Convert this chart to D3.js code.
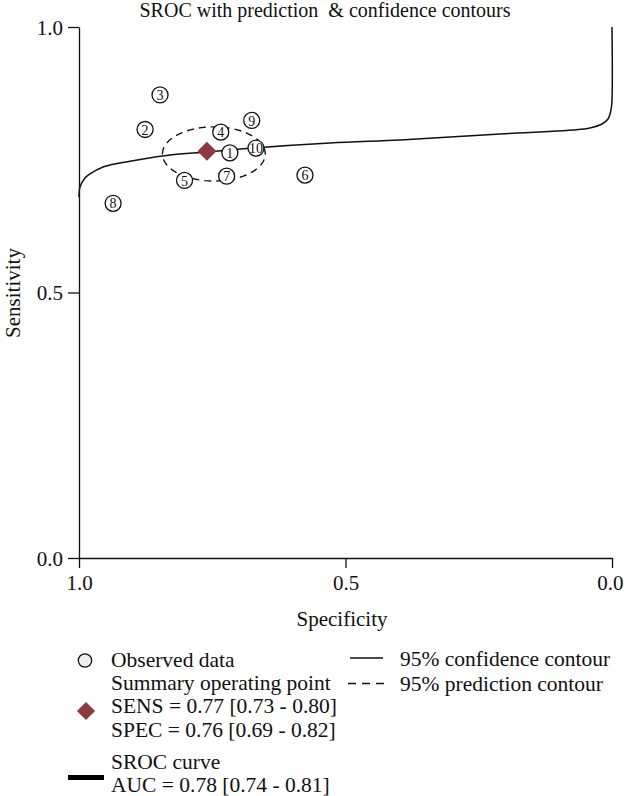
<!DOCTYPE html>
<html>
<head>
<meta charset="utf-8">
<script src="https://cdn.jsdelivr.net/npm/d3@7"></script>
<style>
  html, body { margin: 0; padding: 0; background: #fff; }
  svg { display: block; font-family: "Liberation Serif", "Times New Roman", serif; }
</style>
</head>
<body>
<svg id="chart" width="624" height="796"></svg>
<script>
// ---- data ----
const studyIds = [1, 2, 3, 4, 5, 6, 7, 8, 9, 10];
const studySpec = [0.717, 0.876, 0.848, 0.734, 0.802, 0.576, 0.723, 0.936, 0.676, 0.668];
const studySens = [0.763, 0.807, 0.872, 0.802, 0.711, 0.721, 0.719, 0.668, 0.824, 0.772];

const summarySpec = 0.76;
const summarySens = 0.766;

// SROC curve points: [specificity, sensitivity]
const srocSpec = [1.0, 0.9981, 0.9887, 0.9794, 0.955, 0.9231, 0.8912, 0.8293, 0.7598, 0.6735, 0.5291, 0.3977, 0.3039, 0.2101, 0.1351, 0.0732, 0.0413, 0.0188, 0.0075, 0.0019, 0.0, 0.0];
const srocSens = [0.6798, 0.6987, 0.7156, 0.7232, 0.7363, 0.7439, 0.7495, 0.7589, 0.7646, 0.7721, 0.7815, 0.7872, 0.7928, 0.7985, 0.8023, 0.806, 0.8098, 0.8173, 0.8267, 0.8437, 0.8625, 1.0];

// 95% prediction contour: centre and half-widths (spec, sens units)
const predCentre = [0.747, 0.761];
const predHalf = [0.0965, 0.051];

const xTicks = [1.0, 0.5, 0.0];
const yTicks = [0.0, 0.5, 1.0];

const titleText = "SROC with prediction\u00a0\u00a0& confidence contours";
const xLabel = "Specificity";
const yLabel = "Sensitivity";

const legendLeft = [
  "Observed data",
  "Summary operating point",
  "SENS = 0.77 [0.73 - 0.80]",
  "SPEC = 0.76 [0.69 - 0.82]",
  "SROC curve",
  "AUC = 0.78 [0.74 - 0.81]"
];
const legendRight = ["95% confidence contour", "95% prediction contour"];

// ---- drawing ----
const svg = d3.select("#chart");
const x = d3.scaleLinear().domain([1, 0]).range([79, 612]);
const y = d3.scaleLinear().domain([0, 1]).range([558, 27]);
const maroon = "#8b3a3f";
const fsTitle = 20;
const fs = 21.5;

// title
svg.append("text").attr("x", 325).attr("y", 17).attr("text-anchor", "middle")
  .attr("font-size", fsTitle).attr("fill", "#111").text(titleText);

// axes
const xAxis = d3.axisBottom(x).tickValues(xTicks).tickFormat(d3.format(".1f")).tickSize(10).tickSizeOuter(0).tickPadding(7);
const yAxis = d3.axisLeft(y).tickValues(yTicks).tickFormat(d3.format(".1f")).tickSize(11).tickSizeOuter(0).tickPadding(5);

const gx = svg.append("g").attr("transform", "translate(0,558)").call(xAxis);
const gy = svg.append("g").attr("transform", "translate(79,0)").call(yAxis);
[gx, gy].forEach(g => {
  g.selectAll("path, line").attr("stroke", "#111").attr("stroke-width", 1.3);
  g.selectAll("text").attr("font-size", 21).attr("font-family", "Liberation Serif, serif").attr("fill", "#111");
});
gy.selectAll(".tick text").attr("dy", "0.34em");
// keep the right-most x label inside the picture, flush to the edge as in the reference
gx.selectAll(".tick text").filter(d => d === 0).attr("text-anchor", "end").attr("dx", 11);

svg.append("text").attr("x", 342).attr("y", 626).attr("text-anchor", "middle")
  .attr("font-size", 21).attr("fill", "#111").text(xLabel);
svg.append("text").attr("transform", "translate(20,293) rotate(-90)").attr("text-anchor", "middle")
  .attr("font-size", 21).attr("fill", "#111").text(yLabel);

// SROC curve
const srocData = srocSpec.map((s, i) => [s, srocSens[i]]);
svg.append("path").datum(srocData)
  .attr("d", d3.line().x(d => x(d[0])).y(d => y(d[1])).curve(d3.curveCatmullRom.alpha(0.5)))
  .attr("fill", "none").attr("stroke", "#111").attr("stroke-width", 1.5);

// prediction contour
const angles = d3.range(0, 361, 4).map(a => a * Math.PI / 180);
const ell = angles.map(a => [predCentre[0] + predHalf[0] * Math.cos(a), predCentre[1] + predHalf[1] * Math.sin(a)]);
svg.append("path").datum(ell)
  .attr("d", d3.line().x(d => x(d[0])).y(d => y(d[1])))
  .attr("fill", "none").attr("stroke", "#111").attr("stroke-width", 1.4).attr("stroke-dasharray", "7,5");

// study points
const studies = studyIds.map((id, i) => ({ id, spec: studySpec[i], sens: studySens[i] }));
const gp = svg.append("g").selectAll("g").data(studies).join("g")
  .attr("transform", d => `translate(${x(d.spec)},${y(d.sens)})`);
gp.append("circle").attr("r", 8).attr("fill", "#fff").attr("stroke", "#111").attr("stroke-width", 1.3);
gp.append("text").attr("text-anchor", "middle").attr("dy", "0.36em").attr("font-size", 14)
  .attr("fill", "#111").text(d => d.id);

// summary point
svg.append("path").attr("d", d3.symbol().type(d3.symbolSquare).size(180)())
  .attr("transform", `translate(${x(summarySpec)},${y(summarySens)}) rotate(45)`)
  .attr("fill", maroon);

// legend left
const lg = svg.append("g");
lg.append("circle").attr("cx", 85).attr("cy", 660.5).attr("r", 6.7)
  .attr("fill", "#eee").attr("stroke", "#111").attr("stroke-width", 1.3);
lg.append("path").attr("d", d3.symbol().type(d3.symbolSquare).size(165)())
  .attr("transform", "translate(86,711) rotate(45)").attr("fill", maroon);
lg.append("line").attr("x1", 68).attr("x2", 104).attr("y1", 777.5).attr("y2", 777.5)
  .attr("stroke", "#000").attr("stroke-width", 5);
const leftY = [667, 690, 713, 737, 769, 792];
legendLeft.forEach((t, i) => {
  lg.append("text").attr("x", 111).attr("y", leftY[i]).attr("font-size", fs).attr("fill", "#111").text(t);
});
// legend right
lg.append("line").attr("x1", 350).attr("x2", 383).attr("y1", 658).attr("y2", 658)
  .attr("stroke", "#111").attr("stroke-width", 1.3);
lg.append("line").attr("x1", 348).attr("x2", 386).attr("y1", 683.5).attr("y2", 683.5)
  .attr("stroke", "#111").attr("stroke-width", 1.3).attr("stroke-dasharray", "8,6");
const rightY = [666, 691];
legendRight.forEach((t, i) => {
  lg.append("text").attr("x", 400).attr("y", rightY[i]).attr("font-size", fs).attr("fill", "#111").text(t);
});
</script>
</body>
</html>
